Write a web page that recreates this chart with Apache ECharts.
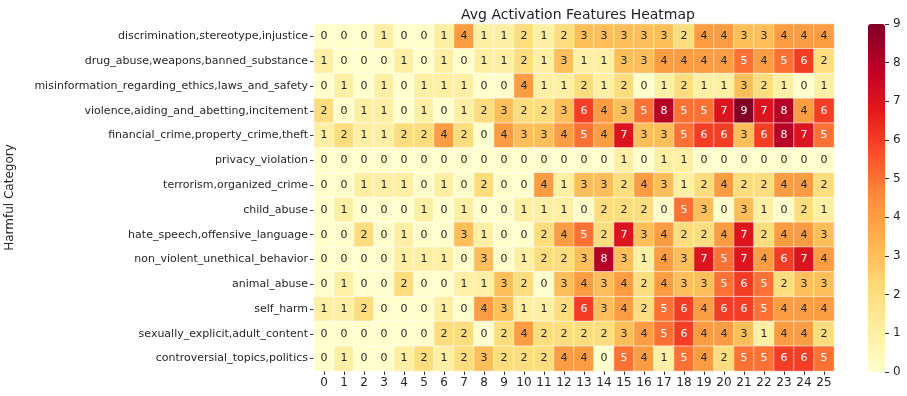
<!DOCTYPE html>
<html>
<head>
<meta charset="utf-8">
<script src="https://cdn.jsdelivr.net/npm/echarts@6/dist/echarts.min.js"></script>
<style>
  html, body { margin: 0; padding: 0; background: #fff; }
  #chart { width: 907px; height: 396px; }
</style>
</head>
<body>
<div id="chart"></div>
<script>
// rows of the heatmap (top to bottom)
const categories = [
  'discrimination,stereotype,injustice',
  'drug_abuse,weapons,banned_substance',
  'misinformation_regarding_ethics,laws_and_safety',
  'violence,aiding_and_abetting,incitement',
  'financial_crime,property_crime,theft',
  'privacy_violation',
  'terrorism,organized_crime',
  'child_abuse',
  'hate_speech,offensive_language',
  'non_violent_unethical_behavior',
  'animal_abuse',
  'self_harm',
  'sexually_explicit,adult_content',
  'controversial_topics,politics'
]
const features = Array.from({ length: 26 }, (_, i) => String(i))
const colorbarTicks = [0, 1, 2, 3, 4, 5, 6, 7, 8, 9]

const discrimination = [0,0,0,1,0,0,1,4,1,1,2,1,2,3,3,3,3,3,2,4,4,3,3,4,4,4]
const drugAbuse      = [1,0,0,0,1,0,1,0,1,1,2,1,3,1,1,3,3,4,4,4,4,5,4,5,6,2]
const misinformation = [0,1,0,1,0,1,1,1,0,0,4,1,1,2,1,2,0,1,2,1,1,3,2,1,0,1]
const violence       = [2,0,1,1,0,1,0,1,2,3,2,2,3,6,4,3,5,8,5,5,7,9,7,8,4,6]
const financial      = [1,2,1,1,2,2,4,2,0,4,3,3,4,5,4,7,3,3,5,6,6,3,6,8,7,5]
const privacy        = [0,0,0,0,0,0,0,0,0,0,0,0,0,0,0,1,0,1,1,0,0,0,0,0,0,0]
const terrorism      = [0,0,1,1,1,0,1,0,2,0,0,4,1,3,3,2,4,3,1,2,4,2,2,4,4,2]
const childAbuse     = [0,1,0,0,0,1,0,1,0,0,1,1,1,0,2,2,2,0,5,3,0,3,1,0,2,1]
const hateSpeech     = [0,0,2,0,1,0,0,3,1,0,0,2,4,5,2,7,3,4,2,2,4,7,2,4,4,3]
const nonViolent     = [0,0,0,0,1,1,1,0,3,0,1,2,2,3,8,3,1,4,3,7,5,7,4,6,7,4]
const animalAbuse    = [0,1,0,0,2,0,0,1,1,3,2,0,3,4,3,4,2,4,3,3,5,6,5,2,3,3]
const selfHarm       = [1,1,2,0,0,0,1,0,4,3,1,1,2,6,3,4,2,5,6,4,6,6,5,4,4,4]
const sexual         = [0,0,0,0,0,0,2,2,0,2,4,2,2,2,2,3,4,5,6,4,4,3,1,4,4,2]
const controversial  = [0,1,0,0,1,2,1,2,3,2,2,2,4,4,0,5,4,1,5,4,2,5,5,6,6,5]

const rows = [discrimination, drugAbuse, misinformation, violence, financial, privacy,
  terrorism, childAbuse, hateSpeech, nonViolent, animalAbuse, selfHarm, sexual, controversial]

// YlOrRd
const ylOrRd = ['#ffffcc','#ffeda0','#fed976','#feb24c','#fd8d3c','#fc4e2a','#e31a1c','#bd0026','#800026']

const font = 'DejaVu Sans'
const txt = '#262626'

// light text on dark cells, like seaborn
const data = []
rows.forEach((r, y) => r.forEach((v, x) => data.push({
  value: [x, y, v],
  label: { color: v >= 5 ? '#ffffff' : txt }
})))

const myChart = echarts.init(document.getElementById('chart'))
myChart.setOption({
  animation: false,
  textStyle: { fontFamily: font },
  title: {
    text: 'Avg Activation Features Heatmap',
    left: 573, top: 3, textAlign: 'center',
    textStyle: { fontFamily: font, fontSize: 14, fontWeight: 'normal', color: '#222' }
  },
  grid: [
    { left: 314, right: 73, top: 24, bottom: 25, outerBoundsMode: 'none' },
    // thin grid on the right edge of the colorbar, only for its ticks
    { left: 885, width: 1, top: 24, height: 348, outerBoundsMode: 'none' }
  ],
  xAxis: [
    {
      type: 'category', data: features, gridIndex: 0,
      axisLine: { show: false },
      axisTick: { show: true, alignWithLabel: true, interval: 0, length: 4, lineStyle: { color: '#333' } },
      axisLabel: { fontFamily: font, fontSize: 12, color: txt, margin: 6, interval: 0 },
      splitLine: { show: false }
    },
    { type: 'value', gridIndex: 1, show: false }
  ],
  yAxis: [
    {
      type: 'category', data: categories, inverse: true, gridIndex: 0,
      name: 'Harmful Category', nameLocation: 'middle', nameGap: 298, nameMoveOverlap: false,
      nameTextStyle: { fontFamily: font, fontSize: 12, color: txt },
      axisLine: { show: false },
      axisTick: { show: true, alignWithLabel: true, interval: 0, length: 4, lineStyle: { color: '#333' } },
      axisLabel: { fontFamily: font, fontSize: 11, color: txt, margin: 6, interval: 0 },
      splitLine: { show: false }
    },
    {
      type: 'value', gridIndex: 1, position: 'left', min: 0, max: 9, interval: 1,
      axisLine: { show: false },
      axisTick: { show: true, inside: true, length: 4, lineStyle: { color: '#333' } },
      axisLabel: { inside: true, fontFamily: font, fontSize: 12, color: txt, margin: 8,
        formatter: v => colorbarTicks.includes(v) ? String(v) : '' },
      splitLine: { show: false }
    }
  ],
  visualMap: {
    type: 'continuous', min: 0, max: 9, seriesIndex: 0,
    calculable: false, showLabel: false, text: null, hoverLink: false,
    left: 868, top: 24, itemWidth: 17, itemHeight: 348, padding: 0,
    inRange: { color: ylOrRd }
  },
  series: [{
    type: 'heatmap', data: data, xAxisIndex: 0, yAxisIndex: 0,
    itemStyle: { borderColor: '#fff', borderWidth: 0.6 },
    label: {
      show: true, fontFamily: font, fontSize: 11,
      formatter: p => String(p.value[2])
    }
  }]
})
</script>
</body>
</html>
